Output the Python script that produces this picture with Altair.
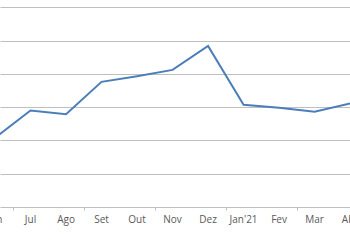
import altair as alt
import pandas as pd

months = ["Jun", "Jul", "Ago", "Set", "Out", "Nov", "Dez", "Jan'21", "Fev", "Mar", "Abr"]
values = [20.8, 29.0, 27.9, 37.6, 39.3, 41.2, 48.4, 30.7, 29.8, 28.6, 31.1]
grid_values = [10, 20, 30, 40, 50, 60]

df = pd.DataFrame({"i": list(range(len(months))), "month": months, "value": values})

W, H = 350, 207
xscale = alt.Scale(domain=[0.141, 9.997], nice=False, zero=False)
yscale = alt.Scale(domain=[0, 62.2], nice=False, zero=True)

grid_color = "#bfbfbf"

base = alt.Chart(df)

line = base.mark_line(color="#4a7ebb", strokeWidth=2, clip=True).encode(
    x=alt.X("i:Q", scale=xscale,
            axis=alt.Axis(values=[k + 0.5 for k in range(len(months))],
                          labels=False, grid=False, title=None,
                          domainColor=grid_color, tickColor=grid_color,
                          tickSize=3, domainWidth=1, tickWidth=1)),
    y=alt.Y("value:Q", scale=yscale,
            axis=alt.Axis(values=grid_values, labels=False, ticks=False,
                          domain=False, title=None, grid=True,
                          gridColor=grid_color, gridWidth=1)),
)

labels = base.mark_text(fontSize=10, font="Open Sans", color="#595959",
                        baseline="middle", align="center").encode(
    x=alt.X("i:Q", scale=xscale),
    y=alt.value(220),
    text="month:N",
)

chart = (line + labels).properties(
    width=W, height=H,
    padding={"left": 0, "top": 0, "right": 0, "bottom": 43},
    autosize=alt.AutoSizeParams(type="none"),
    background="white"
).configure_view(stroke=None)

chart.save("out.html", embed_options={"renderer": "svg", "actions": False})
